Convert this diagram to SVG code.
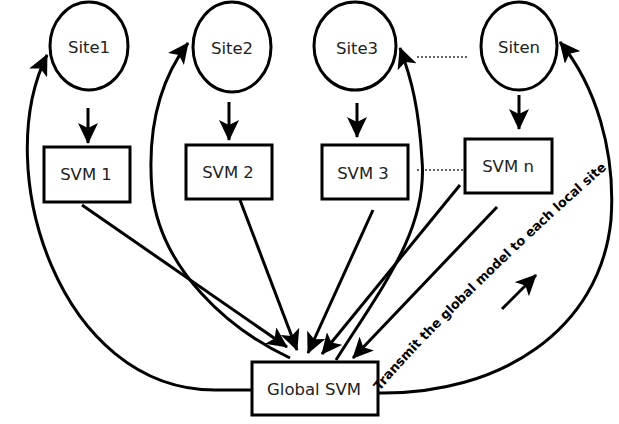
<svg xmlns="http://www.w3.org/2000/svg" width="619" height="424" viewBox="0 0 619 424">
<style>
.shape{fill:#fff;stroke:#000;stroke-width:3}
.lbl{font-family:"DejaVu Sans",sans-serif;font-size:16.5px;fill:#222;text-anchor:middle}
.c{fill:none;stroke:#000;stroke-width:3}
.dot{fill:none;stroke:#333;stroke-width:1.5;stroke-dasharray:2,2}
.note{font-family:"DejaVu Sans",sans-serif;font-size:13px;font-weight:bold;fill:#000}
</style>
<defs>
<marker id="ah" markerUnits="userSpaceOnUse" markerWidth="22" markerHeight="20" viewBox="0 0 22 20" refX="20" refY="10" orient="auto">
<path d="M0,0 L21,10 L0,20 L5,10 z" fill="#000"/>
</marker>
<path id="tp" d="M380,391 C420,341 540,226 610,166"/>
</defs>
<rect width="619" height="424" fill="#fff"/>
<g id="connectors">
<path class="c" d="M88,108 L88,143" marker-end="url(#ah)"/>
<path class="c" d="M229,102 L229,140" marker-end="url(#ah)"/>
<path class="c" d="M357,103 L357,137" marker-end="url(#ah)"/>
<path class="c" d="M519,95 L519,129" marker-end="url(#ah)"/>
<path class="dot" d="M417,57 L469,57"/>
<path class="dot" d="M417,170 L463,170"/>
<path class="c" d="M82,205 L287,347" marker-end="url(#ah)"/>
<path class="c" d="M240,200 L297,350" marker-end="url(#ah)"/>
<path class="c" d="M373,210 L308,353" marker-end="url(#ah)"/>
<path class="c" d="M460,185 L322,354" marker-end="url(#ah)"/>
<path class="c" d="M497,207 L353,358" marker-end="url(#ah)"/>
<path class="c" d="M252,390 L215,390 C60,390 -10,170 47,55" marker-end="url(#ah)"/>
<path class="c" d="M290,358 C230,330 160,270 152,190 C147,130 160,80 188,43" marker-end="url(#ah)"/>
<path class="c" d="M336,360 C380,290 428,230 422,160 C419,110 412,80 400,48" marker-end="url(#ah)"/>
<path class="c" d="M378,393 C500,395 600,330 611,220 C616,150 595,85 560,42" marker-end="url(#ah)"/>
<path class="c" d="M502,309 L536,275" marker-end="url(#ah)"/>
</g>
<g id="site1"><ellipse class="shape" cx="89" cy="46" rx="39" ry="44"/><text class="lbl" x="89" y="53">Site1</text></g>
<g id="site2"><ellipse class="shape" cx="232" cy="47" rx="39" ry="45"/><text class="lbl" x="232" y="54">Site2</text></g>
<g id="site3"><ellipse class="shape" cx="355" cy="46" rx="41" ry="44"/><text class="lbl" x="357" y="54">Site3</text></g>
<g id="siten"><ellipse class="shape" cx="519" cy="46" rx="38" ry="44"/><text class="lbl" x="519" y="53">Siten</text></g>
<g id="svm1"><rect class="shape" x="44" y="147" width="86" height="55"/><text class="lbl" x="86" y="180">SVM 1</text></g>
<g id="svm2"><rect class="shape" x="186" y="145" width="86" height="54"/><text class="lbl" x="228" y="178">SVM 2</text></g>
<g id="svm3"><rect class="shape" x="322" y="145" width="86" height="54"/><text class="lbl" x="363" y="179">SVM 3</text></g>
<g id="svmn"><rect class="shape" x="465" y="139" width="87" height="54"/><text class="lbl" x="508" y="172">SVM n</text></g>
<g id="global"><rect class="shape" x="252" y="362" width="126" height="53"/><text class="lbl" x="314" y="395">Global SVM</text></g>
<text class="note"><textPath href="#tp" textLength="318" lengthAdjust="spacingAndGlyphs">Transmit the global model to each local site</textPath></text>
</svg>
